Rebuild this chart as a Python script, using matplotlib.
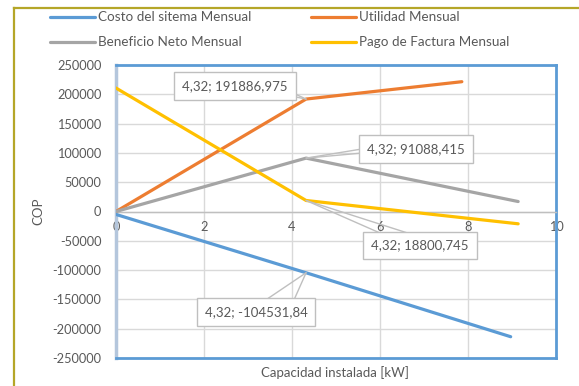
import matplotlib
matplotlib.use("Agg")
import matplotlib.pyplot as plt
from matplotlib.lines import Line2D

plt.rcParams['font.family'] = ['Lato', 'DejaVu Sans']

# Series data
series_names = ["Costo del sitema Mensual", "Utilidad Mensual",
                "Beneficio Neto Mensual", "Pago de Factura Mensual"]
x_costo = [0, 4.32, 8.97]
costo = [-5000, -104531.84, -213700]
x_utilidad = [0, 4.32, 7.86]
utilidad = [0, 191886.975, 221500]
x_beneficio = [0, 4.32, 9.14]
beneficio = [0, 91088.415, 17000]
x_pago = [0, 4.32, 9.14]
pago = [210700, 18800.745, -21000]

x_ticks = [0, 2, 4, 6, 8, 10]
y_ticks = list(range(-250000, 250001, 50000))

colors = ["#5b9bd5", "#ed7d31", "#a5a5a5", "#ffc000"]
text_col = "#595959"

W, H = 579, 386
fig = plt.figure(figsize=(W / 100, H / 100), dpi=100)
ax = fig.add_axes([116 / W, 1 - 358 / H, 440 / W, 293 / H])

ax.set_xlim(0, 10)
ax.set_ylim(-250000, 250000)
ax.set_xticks(x_ticks)
ax.set_yticks(y_ticks)
ax.set_xticklabels([str(t) for t in x_ticks])
ax.set_yticklabels([str(t) for t in y_ticks])
ax.tick_params(axis='both', length=0, labelsize=9.2, labelcolor=text_col)
ax.tick_params(axis='y', pad=10.5)
ax.tick_params(axis='x', pad=7)
ax.grid(True, color="#d9d9d9", lw=1)
ax.set_axisbelow(True)

# spines: x axis crosses at zero, plot area framed in blue
ax.spines['bottom'].set_position(('data', 0))
ax.spines['bottom'].set_color("#bfbfbf")
ax.spines['bottom'].set_linewidth(1)
ax.spines['left'].set_color("#b4c6dc")
ax.spines['left'].set_linewidth(2.5)
for s in ('top', 'right'):
    ax.spines[s].set_color("#5b9bd5")
    ax.spines[s].set_linewidth(2)
ax.plot([0, 1], [0, 0], transform=ax.transAxes, color="#5b9bd5", lw=2,
        clip_on=False, zorder=3)

xs = [x_costo, x_utilidad, x_beneficio, x_pago]
ys = [costo, utilidad, beneficio, pago]
for x, y, c in zip(xs, ys, colors):
    ax.plot(x, y, color=c, lw=2.3, solid_capstyle='round', zorder=4)

# data callouts: (series index, box offset px, wedge base offsets px)
callouts = [
    (1, (-71, 13), [(-13, 6), (-15, 3)]),
    (2, (110, 9), [(55, 9), (55, 5)]),
    (3, (114, -45), [(75, -33), (103, -33)]),
    (0, (-50, -39), [(-40, -27), (-12, -27)]),
]
for idx, (bdx, bdy), wedge in callouts:
    px, py = xs[idx][1], ys[idx][1]
    for wx, wy in wedge:
        ax.annotate('', xy=(px, py), xytext=(wx, wy), textcoords='offset pixels',
                    arrowprops=dict(arrowstyle='-', color="#bfbfbf", lw=1,
                                    shrinkA=0, shrinkB=0), zorder=5)
    label = f"{px:.2f}".replace('.', ',') + "; " + \
        (f"{ys[idx][1]:.3f}".rstrip('0').rstrip('.')).replace('.', ',')
    ax.annotate(label, xy=(px, py), xytext=(bdx, bdy), textcoords='offset pixels',
                ha='center', va='center', fontsize=9.5, color=text_col, zorder=6,
                bbox=dict(boxstyle='square,pad=0.6', fc='white', ec="#bfbfbf", lw=1))

# axis titles
fig.text(335 / W, 1 - 373 / H, "Capacidad instalada [kW]", ha='center', va='center',
         fontsize=9.5, color=text_col)
fig.text(38 / W, 1 - 211 / H, "COP", ha='center', va='center', rotation=90,
         fontsize=9.5, color=text_col)

# legend at top, two columns
leg_pos = [(50, 17), (311, 17), (50, 42), (311, 42)]
order = [0, 1, 2, 3]
for i, (lx, ly) in zip(order, leg_pos):
    fig.add_artist(Line2D([lx / W, (lx + 45) / W], [1 - ly / H, 1 - ly / H],
                          color=colors[i], lw=2.3, solid_capstyle='round'))
    fig.text((lx + 48) / W, 1 - ly / H, series_names[i], ha='left', va='center',
             fontsize=9.7, color=text_col)

# chart outer frame
fc = "#b5a628"
fig.add_artist(Line2D([14 / W, 14 / W], [1 - 8 / H, 0], color=fc, lw=1.6))
fig.add_artist(Line2D([14 / W, 1], [1 - 8 / H, 1 - 8 / H], color=fc, lw=1.6))

fig.savefig("out.png", dpi=100)
